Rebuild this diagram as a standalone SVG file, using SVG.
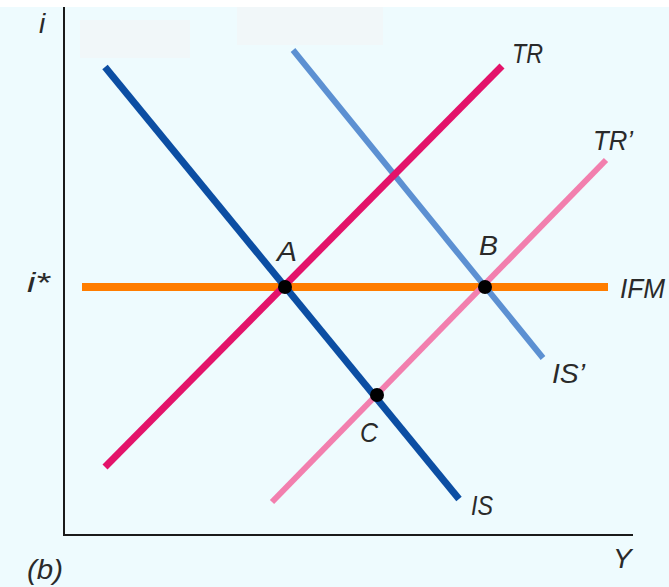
<svg xmlns="http://www.w3.org/2000/svg" width="669" height="587" viewBox="0 0 669 587">
<style>
.lbl{font-family:"Liberation Sans","Noto Sans",sans-serif;font-style:italic;font-size:28px;fill:#2a2a2a}
.ax{stroke:#1a1a1a;stroke-width:2;fill:none}
.crv{fill:none;stroke-linecap:butt}
.dot{fill:#000}
</style>
<rect x="0" y="0" width="669" height="587" fill="#eefbfe"/>
<rect x="0" y="0" width="669" height="7" fill="#ffffff"/>
<rect x="80" y="20" width="110" height="38" fill="#f1f7f9"/>
<rect x="237" y="7" width="146" height="38" fill="#f1f7f9"/>
<g id="axes">
<line class="ax" x1="64" y1="7" x2="64" y2="536"/>
<line class="ax" x1="63" y1="535" x2="633" y2="535"/>
<text class="lbl" x="39" y="33">i</text>
<text class="lbl" x="27" y="292" textLength="23" lengthAdjust="spacingAndGlyphs">i*</text>
<text class="lbl" x="613" y="568">Y</text>
<text class="lbl" x="27" y="579" font-size="26" textLength="36" lengthAdjust="spacingAndGlyphs">(b)</text>
</g>
<g id="connectors">
<line id="IFM" class="crv" x1="82" y1="287" x2="608" y2="287" stroke="#ff7d00" stroke-width="8"/>
<line id="IS" class="crv" x1="105" y1="67" x2="459" y2="499" stroke="#0c4ea3" stroke-width="7"/>
<line id="ISp" class="crv" x1="293" y1="50" x2="543" y2="358" stroke="#5c90d2" stroke-width="6"/>
<line id="TR" class="crv" x1="105" y1="467" x2="502" y2="66" stroke="#e3136a" stroke-width="7"/>
<line id="TRp" class="crv" x1="272" y1="502" x2="606" y2="160" stroke="#f27fae" stroke-width="6"/>
</g>
<g id="curve-labels">
<text class="lbl" x="512" y="63" textLength="31" lengthAdjust="spacingAndGlyphs">TR</text>
<text class="lbl" x="593" y="150" textLength="40" lengthAdjust="spacingAndGlyphs">TR’</text>
<text class="lbl" x="620" y="298" textLength="45" lengthAdjust="spacingAndGlyphs">IFM</text>
<text class="lbl" x="552" y="383" textLength="33" lengthAdjust="spacingAndGlyphs">IS’</text>
<text class="lbl" x="471" y="515" textLength="22" lengthAdjust="spacingAndGlyphs">IS</text>
</g>
<g id="A"><circle class="dot" cx="285" cy="287" r="7"/><text class="lbl" x="277" y="261" textLength="20" lengthAdjust="spacingAndGlyphs">A</text></g>
<g id="B"><circle class="dot" cx="485" cy="287" r="7"/><text class="lbl" x="479" y="255" textLength="19" lengthAdjust="spacingAndGlyphs">B</text></g>
<g id="C"><circle class="dot" cx="377" cy="395" r="7"/><text class="lbl" x="360" y="442" textLength="18" lengthAdjust="spacingAndGlyphs">C</text></g>
</svg>
